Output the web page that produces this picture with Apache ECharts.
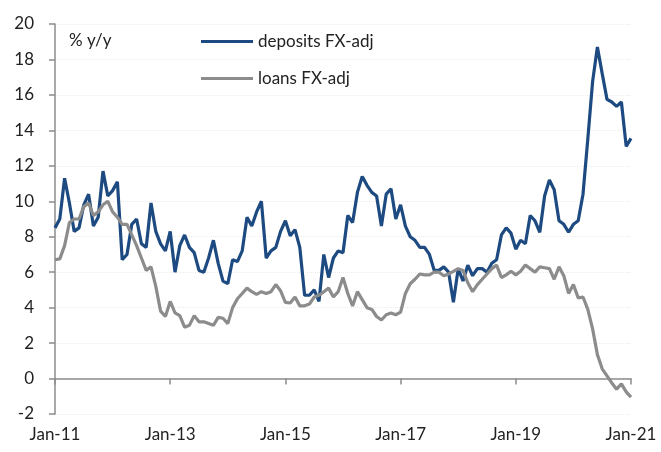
<!DOCTYPE html>
<html>
<head>
<meta charset="utf-8">
<style>
  html, body { margin: 0; padding: 0; background: #fff; }
  #chart { width: 661px; height: 452px; }
</style>
<script src="https://cdn.jsdelivr.net/npm/echarts@6/dist/echarts.min.js"></script>
</head>
<body>
<div id="chart"></div>
<script>
// monthly, Jan-11 .. Jan-21
var monthNames = ['Jan', 'Feb', 'Mar', 'Apr', 'May', 'Jun', 'Jul', 'Aug', 'Sep', 'Oct', 'Nov', 'Dec'];
var years = ['11', '12', '13', '14', '15', '16', '17', '18', '19', '20', '21'];
var yTicks = { min: -2, max: 20, step: 2 };

var deposits = [
  8.5, 9.0, 11.3, 9.9, 8.3, 8.5, 9.8, 10.4, 8.6, 9.1, 11.7, 10.3,
  10.6, 11.1, 6.7, 7.0, 8.7, 9.0, 7.6, 7.4, 9.9, 8.3, 7.6, 7.2,
  8.3, 6.0, 7.5, 8.1, 7.4, 7.1, 6.1, 6.0, 6.8, 7.8, 6.5, 5.5,
  5.35, 6.7, 6.6, 7.2, 9.1, 8.6, 9.4, 10.0, 6.8, 7.2, 7.4, 8.3,
  8.9, 8.05, 8.4, 7.4, 4.7, 4.7, 5.0, 4.35, 7.0, 5.7, 6.8, 7.2,
  7.1, 9.2, 8.8, 10.5, 11.4, 10.9, 10.5, 10.3, 8.6, 10.4, 10.7, 9.0,
  9.8, 8.6, 8.0, 7.8, 7.4, 7.4, 7.0, 6.1, 6.1, 6.3, 6.0, 4.3,
  6.2, 5.5, 6.4, 5.8, 6.2, 6.2, 6.0, 6.5, 6.7, 8.1, 8.5, 8.2,
  7.3, 7.8, 7.6, 9.2, 8.9, 8.25, 10.3, 11.2, 10.65, 8.9, 8.7, 8.25,
  8.7, 8.9, 10.4, 13.5, 16.75, 18.7, 17.2, 15.75, 15.6, 15.35, 15.6, 13.1,
  13.55
];

var loans = [
  6.7, 6.75, 7.5, 8.8, 9.0, 9.0, 9.7, 9.9, 9.2, 9.4, 9.8, 10.0,
  9.4, 9.1, 8.7, 8.7, 8.1, 7.5, 6.8, 6.1, 6.3, 5.2, 3.8, 3.5,
  4.35, 3.7, 3.55, 2.9, 3.0, 3.55, 3.2, 3.2, 3.1, 3.0, 3.45, 3.4,
  3.1, 4.0, 4.5, 4.8, 5.1, 4.9, 4.75, 4.9, 4.8, 4.9, 5.3, 4.95,
  4.3, 4.26, 4.6, 4.1, 4.1, 4.2, 4.6, 4.7, 4.9, 5.1, 4.6, 4.9,
  5.7, 4.8, 4.1, 4.9, 4.45, 4.0, 3.9, 3.5, 3.3, 3.6, 3.7, 3.6,
  3.75, 4.8, 5.35, 5.6, 5.9, 5.85, 5.85, 6.0, 6.0, 5.8, 5.9, 6.05,
  6.2, 6.1, 5.4, 4.9, 5.3, 5.6, 5.9, 6.2, 6.4, 5.7, 5.85, 6.05,
  5.85, 6.05, 6.4, 6.2, 6.0, 6.3, 6.25, 6.2, 5.6, 6.3, 5.8, 4.8,
  5.3, 4.55, 4.6, 3.9, 2.8, 1.35, 0.55, 0.15, -0.25, -0.6, -0.3, -0.75,
  -1.05
];

var months = [];
for (var y = 0; y < years.length; y++) {
  for (var m = 0; m < 12; m++) {
    months.push(monthNames[m] + '-' + years[y]);
    if (y === years.length - 1) break; // series ends at Jan-21
  }
}

var fontFam = 'Lato, "Noto Sans", sans-serif';
var axisGrey = '#8c8c8c';

var myChart = echarts.init(document.getElementById('chart'));
var option = {
  animation: false,
  color: ['#1d4a80', '#8c8c8c'],
  textStyle: { fontFamily: fontFam },
  title: {
    text: '% y/y',
    left: 64,
    top: 27,
    textStyle: { fontSize: 17, fontWeight: 'normal', color: '#222', fontFamily: fontFam }
  },
  legend: {
    orient: 'vertical',
    left: 196,
    top: 28,
    itemWidth: 52,
    itemHeight: 3,
    itemGap: 20,
    icon: 'rect',
    textStyle: { fontSize: 17, color: '#222', fontFamily: fontFam },
    data: ['deposits FX-adj', 'loans FX-adj']
  },
  grid: {
    left: 55,
    right: 30,
    top: 24,
    bottom: 38
  },
  xAxis: {
    type: 'category',
    data: months,
    boundaryGap: false,
    axisLine: { lineStyle: { color: axisGrey, width: 1.5 } },
    axisTick: { interval: 23, length: 6, lineStyle: { color: axisGrey, width: 1.5 } },
    axisLabel: { interval: 23, color: '#222', fontSize: 17, margin: 12, fontFamily: fontFam },
    splitLine: { show: false }
  },
  yAxis: {
    type: 'value',
    min: yTicks.min,
    max: yTicks.max,
    interval: yTicks.step,
    axisLine: { show: true, lineStyle: { color: axisGrey, width: 1.5 } },
    axisTick: { show: true, length: 6, lineStyle: { color: axisGrey, width: 1.5 } },
    axisLabel: { color: '#222', fontSize: 17, margin: 21, fontFamily: fontFam },
    splitLine: { lineStyle: { color: '#ececec', type: 'dotted', width: 1 } }
  },
  series: [
    {
      name: 'deposits FX-adj',
      type: 'line',
      data: deposits,
      symbol: 'none',
      lineStyle: { width: 3.2 }
    },
    {
      name: 'loans FX-adj',
      type: 'line',
      data: loans,
      symbol: 'none',
      lineStyle: { width: 3.2 }
    }
  ]
};
myChart.setOption(option);
window.addEventListener('resize', function () {
  myChart.resize();
});
</script>
</body>
</html>
